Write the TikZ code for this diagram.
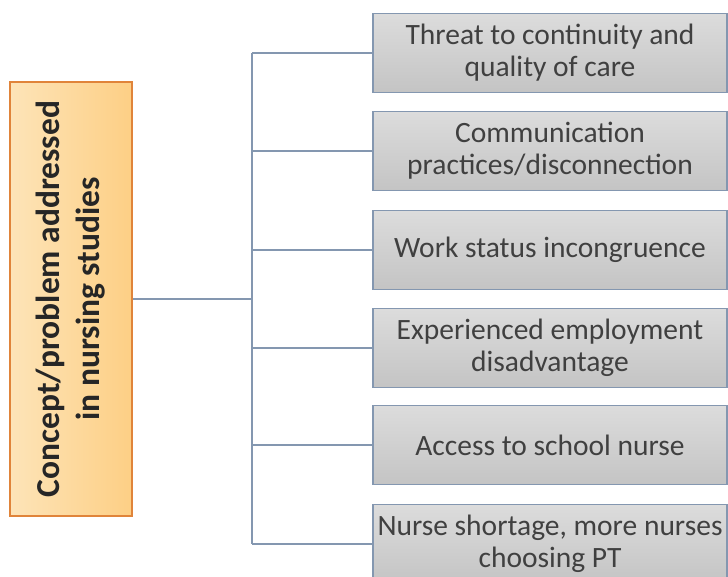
\documentclass[tikz,border=0pt]{standalone}
\usepackage{fontspec}
\setmainfont{Carlito}
\usepackage{xcolor}
\definecolor{linkblue}{HTML}{8497B0}
\definecolor{boxtop}{HTML}{DCDCDC}
\definecolor{boxbot}{HTML}{C4C4C4}
\definecolor{orleft}{HTML}{FDE4B8}
\definecolor{orright}{HTML}{FDCF85}
\definecolor{orline}{HTML}{E0843A}
\tikzset{
  topic/.style={draw=linkblue, line width=1.2pt, top color=boxtop, bottom color=boxbot,
    minimum width=354pt, minimum height=79pt, align=center, text=black!75,
    font=\fontsize{29.5}{32}\selectfont, inner sep=0pt},
  concept/.style={draw=orline, line width=1.2pt, left color=orleft, right color=orright,
    minimum width=434pt, minimum height=122pt, align=center, text=black!85,
    font=\fontsize{33.5}{40}\selectfont\bfseries, rotate=90, inner sep=0pt},
  link/.style={linkblue, line width=2pt}
}

\begin{document}
\begin{tikzpicture}
\useasboundingbox (0pt,0pt) rectangle (728pt,577pt);
\node[concept] (problem) at (71pt,278pt) {Concept/problem addressed\\in nursing studies};
\coordinate (trunk) at (252pt,278pt);
\node[topic] (threat) at (550pt,524pt) {Threat to continuity and\\quality of care};
\node[topic] (comm) at (550pt,426pt) {Communication\\practices/disconnection};
\node[topic] (status) at (550pt,327pt) {Work status incongruence};
\node[topic] (disadv) at (550pt,229pt) {Experienced employment\\disadvantage};
\node[topic] (access) at (550pt,132pt) {Access to school nurse};
\node[topic] (shortage) at (550pt,33pt) {Nurse shortage, more nurses\\choosing PT};
% trunk and branches
\draw[link] (problem.south) -- (trunk);
\draw[link] (threat.west -| trunk) -- (shortage.west -| trunk);
\draw[link] (threat.west -| trunk) -- (threat.west);
\draw[link] (comm.west -| trunk) -- (comm.west);
\draw[link] (status.west -| trunk) -- (status.west);
\draw[link] (disadv.west -| trunk) -- (disadv.west);
\draw[link] (access.west -| trunk) -- (access.west);
\draw[link] (shortage.west -| trunk) -- (shortage.west);
\end{tikzpicture}
\end{document}
